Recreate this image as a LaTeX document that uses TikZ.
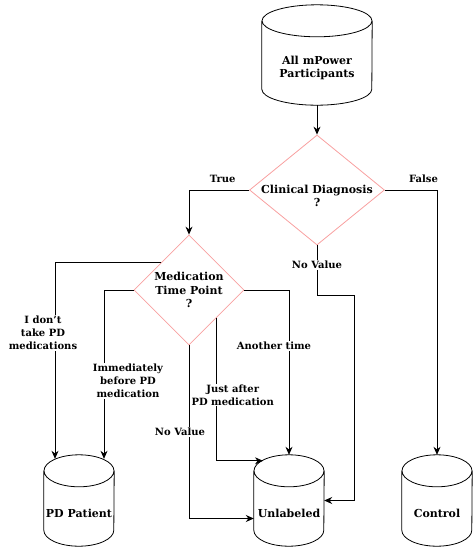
\documentclass[tikz,border=0pt]{standalone}
\usepackage{fontspec}
\setmainfont{DejaVu Serif}
\usepackage{xcolor}
\usepackage{tikz}
\usetikzlibrary{calc}
\usetikzlibrary{arrows.meta,shapes.geometric}
\definecolor{diapink}{RGB}{248,160,160}

% cylinder outline round a named node
\newcommand{\dbshape}[2]{%
  \draw[line width=0.8pt] ([yshift=-16pt]#1.north) ellipse[x radius=#2pt,y radius=16pt]
    ([yshift=-16pt]#1.north west) -- ([yshift=16pt]#1.south west)
    arc[start angle=180,end angle=360,x radius=#2pt,y radius=16pt]
    -- ([yshift=-16pt]#1.north east);}

\begin{document}
\begin{tikzpicture}[x=1pt,y=-1pt,
  every node/.style={font=\bfseries\fontsize{10}{13}\selectfont},
  bigtext/.style={font=\bfseries\fontsize{11}{13.5}\selectfont,align=center},
  db/.style={minimum width=2*#1,minimum height=91pt,inner sep=0pt},
  dbtext/.style={bigtext,yshift=-13pt},
  decision/.style={draw=diapink,line width=0.8pt,diamond,inner sep=0pt},
  arr/.style={-{Stealth[length=8pt,width=7pt]},line width=0.8pt},
  lbl/.style={fill=white,align=center,inner sep=1pt}]
\useasboundingbox (0,0) rectangle (472,547);

% Sources and outcomes
\node[db=55,minimum height=100pt,
  label={[dbtext]center:All mPower\\Participants}] (all) at (317,55) {};
\node[db=35,label={[dbtext]center:PD Patient}] (pd) at (79,500.5) {};
\node[db=35,label={[dbtext]center:Unlabeled}] (unl) at (289,500.5) {};
\node[db=35,label={[dbtext]center:Control}] (ctrl) at (437,500.5) {};
\foreach \n/\r in {all/55,pd/35,unl/35,ctrl/35} {\dbshape{\n}{\r}}

% Decisions
\node[decision,minimum width=135pt,minimum height=110pt,
  label={[bigtext,yshift=-6pt]center:Clinical Diagnosis\\?}] (dm1) at (317,190) {};
\node[decision,minimum width=110pt,minimum height=110pt,
  label={[bigtext]center:Medication\\Time Point\\?}] (dm2) at (189,290) {};
\coordinate (nvc) at (354,295);

% First split
\draw[arr] (all.south) -- (dm1.north);
\draw[arr] (dm1.west) -| node[pos=0.22,above=4pt]{True} (dm2.north);
\draw[arr] (dm1.east) -| node[pos=0.37,above=4pt]{False} (ctrl.north);
\draw[arr] (dm1.south) |- node[lbl,pos=0.2]{No Value} (nvc) |- (unl.east);

% Medication time point
\draw[arr] ($(dm2.north)!0.5!(dm2.west)$) -| node[lbl,pos=0.68,xshift=-12pt]{I don't\\take PD\\medications}
  ([xshift=-24pt,yshift=-4pt]pd.north);
\draw[arr] (dm2.west) -| node[lbl,pos=0.77,xshift=24pt]{Immediately\\before PD\\medication}
  ([xshift=25pt,yshift=-4pt]pd.north);
\draw[arr] (dm2.south) |- node[lbl,pos=0.25,xshift=-9pt]{No Value} ([yshift=-18pt]unl.west);
\draw[arr] ($(dm2.east)!0.5!(dm2.south)$) |- node[lbl,pos=0.27,xshift=16pt]{Just after\\PD medication}
  ([xshift=-26pt,yshift=-6pt]unl.north);
\draw[arr] (dm2.east) -| node[lbl,pos=0.67,xshift=-15pt]{Another time} (unl.north);
\end{tikzpicture}
\end{document}
